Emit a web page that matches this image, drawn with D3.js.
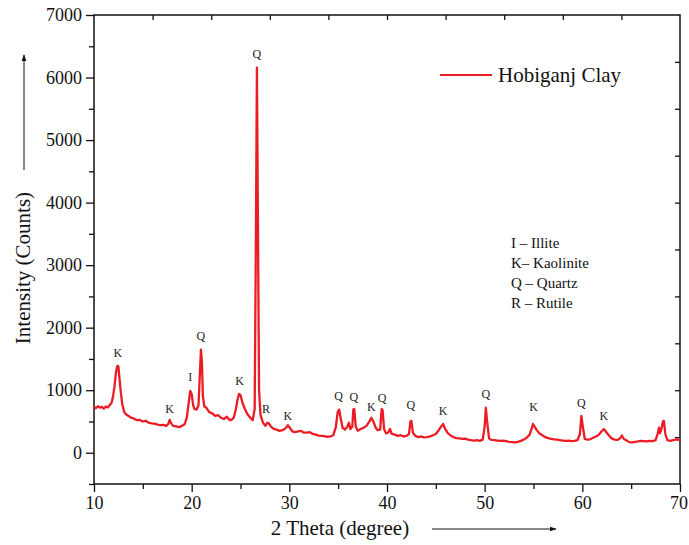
<!DOCTYPE html>
<html>
<head>
<meta charset="utf-8">
<title>Hobiganj Clay XRD</title>
<script src="https://d3js.org/d3.v7.min.js"></script>
<style>
  body { margin: 0; background: #fff; }
  svg { display: block; font-family: "Liberation Serif", "Times New Roman", serif; }
  .axis text { font-family: "Liberation Serif", "Times New Roman", serif; font-size: 18px; fill: #111; }
  .axis path, .axis line { stroke: #111; stroke-width: 1.3px; }
  .peak { font-size: 12px; fill: #222; text-anchor: middle; }
</style>
</head>
<body>
<svg id="chart" width="689" height="545"></svg>
<script>
// diffraction pattern (2 theta in degrees, counts)
const theta = [
  10.0, 10.2, 10.4, 10.6, 10.8, 11.0, 11.2, 11.4, 11.6, 11.8, 11.95, 12.1, 12.25, 12.4, 12.5, 12.6, 12.75, 12.9,
  13.1, 13.3, 13.5, 13.8, 14.1, 14.4, 14.7, 15.0, 15.3, 15.6, 15.9, 16.2, 16.5, 16.8, 17.1, 17.4, 17.6, 17.75, 17.9,
  18.1, 18.4, 18.7, 19.0, 19.3, 19.5, 19.7, 19.85, 20.0, 20.15, 20.3, 20.5, 20.7, 20.85, 20.95, 21.05, 21.15, 21.3,
  21.5, 21.8, 22.1, 22.4, 22.7, 23.0, 23.3, 23.6, 23.9, 24.1, 24.3, 24.5, 24.7, 24.85, 25.0, 25.2, 25.45, 25.7, 26.0,
  26.25, 26.45, 26.58, 26.68, 26.78, 26.9, 27.05, 27.3, 27.55, 27.75, 27.9, 28.1, 28.4, 28.7, 29.0, 29.3, 29.6, 29.85,
  30.05, 30.3, 30.6, 30.9, 31.2, 31.5, 31.8, 32.1, 32.4, 32.7, 33.0, 33.3, 33.6, 33.9, 34.2, 34.5, 34.75, 34.95, 35.1,
  35.25, 35.45, 35.7, 35.95, 36.1, 36.25, 36.45, 36.55, 36.65, 36.8, 37.0, 37.3, 37.6, 37.9, 38.2, 38.4, 38.6, 38.85,
  39.05, 39.3, 39.45, 39.55, 39.7, 39.9, 40.1, 40.3, 40.5, 40.8, 41.1, 41.4, 41.7, 42.0, 42.25, 42.4, 42.5, 42.65,
  42.9, 43.2, 43.5, 43.8, 44.1, 44.4, 44.7, 45.0, 45.3, 45.55, 45.75, 45.95, 46.2, 46.5, 46.8, 47.1, 47.4, 47.7,
  48.0, 48.3, 48.6, 48.9, 49.2, 49.5, 49.8, 50.0, 50.12, 50.25, 50.45, 50.7, 51.0, 51.3, 51.6, 51.9, 52.2, 52.5,
  52.8, 53.1, 53.4, 53.7, 54.0, 54.3, 54.6, 54.8, 54.95, 55.1, 55.3, 55.6, 55.9, 56.2, 56.5, 56.8, 57.1, 57.4, 57.7,
  58.0, 58.3, 58.6, 58.9, 59.2, 59.5, 59.75, 59.9, 60.05, 60.25, 60.5, 60.8, 61.1, 61.4, 61.7, 61.95, 62.2, 62.4,
  62.7, 63.0, 63.3, 63.6, 63.85, 64.05, 64.25, 64.5, 64.8, 65.1, 65.4, 65.7, 66.0, 66.3, 66.6, 66.9, 67.2, 67.5,
  67.7, 67.85, 67.95, 68.1, 68.25, 68.35, 68.5, 68.7, 69.0, 69.3, 69.6, 70.0
];
const counts = [
  735, 710, 745, 720, 735, 705, 740, 725, 760, 800, 900, 1060, 1290, 1390, 1380, 1200, 960, 770,
  650, 610, 590, 560, 545, 520, 525, 500, 510, 480, 470, 465, 450, 440, 445, 430, 460, 525, 470,
  430, 420, 410, 430, 460, 560, 800, 990, 940, 760, 700, 690, 760, 1300, 1650, 1450, 900, 740,
  720, 650, 630, 590, 600, 560, 540, 575, 520, 530, 560, 680, 850, 940, 920, 800, 700, 620, 560,
  520, 700, 3500, 6160, 3800, 1000, 600, 480, 430, 480, 470, 420, 380, 370, 350, 360, 390, 440,
  400, 340, 330, 340, 350, 320, 320, 330, 300, 290, 275, 270, 265, 255, 260, 280, 400, 650, 690,
  560, 400, 370, 420, 480, 380, 420, 690, 700, 420, 350, 380, 400, 430, 500, 560, 500, 400,
  360, 370, 700, 680, 380, 310, 320, 380, 300, 290, 270, 280, 260, 270, 300, 500, 510, 320,
  270, 250, 260, 245, 250, 260, 280, 300, 360, 420, 460, 380, 320, 275, 250, 235, 230, 220,
  225, 210, 200, 195, 200, 190, 210, 420, 720, 500, 230, 205, 200, 195, 190, 195, 185, 175,
  170, 165, 175, 190, 210, 240, 290, 380, 460, 420, 370, 310, 280, 250, 235, 220, 215, 210, 200,
  195, 190, 195, 185, 190, 200, 300, 590, 420, 220, 210, 215, 240, 260, 290, 340, 380, 340,
  280, 230, 210, 205, 230, 275, 220, 200, 170, 165, 175, 180, 190, 185, 180, 190, 185, 200,
  300, 400, 310, 380, 500, 510, 300, 200, 190, 200, 215, 200
];

// phase labels above the peaks
const peakLabels = ["K", "K", "I", "Q", "K", "Q", "R", "K", "Q", "Q", "K", "Q", "Q", "K", "Q", "K", "Q", "K"];
const peakTheta  = [12.45, 17.75, 19.85, 20.95, 24.9, 26.68, 27.6, 29.85, 35.05, 36.6, 38.4, 39.5, 42.45, 45.75, 50.12, 55.0, 59.9, 62.2];
const peakLabelY = [1530, 640, 1150, 1800, 1080, 6320, 640, 530, 840, 820, 660, 810, 700, 610, 880, 660, 730, 520];

const xTicks = [10, 20, 30, 40, 50, 60, 70];
const yTicks = [0, 1000, 2000, 3000, 4000, 5000, 6000, 7000];
const keyLines = ["I \u2013 Illite", "K\u2013 Kaolinite", "Q \u2013 Quartz", "R \u2013 Rutile"];
const seriesName = "Hobiganj Clay";

const width = 689, height = 545;
const margin = { top: 15, right: 9, bottom: 61, left: 94 };
const red = "#ec1c24";

const svg = d3.select("#chart");
const x = d3.scaleLinear().domain([10, 70]).range([margin.left, width - margin.right]);
const y = d3.scaleLinear().domain([-500, 7000]).range([height - margin.bottom, margin.top]);

// bottom axis: major + minor ticks outward
svg.append("g").attr("class", "axis")
  .attr("transform", `translate(0,${y(-500)})`)
  .call(d3.axisBottom(x).tickValues(d3.range(15, 70, 10)).tickSize(5).tickFormat(""))
  .call(g => g.select(".domain").remove());
svg.append("g").attr("class", "axis")
  .attr("transform", `translate(0,${y(-500)})`)
  .call(d3.axisBottom(x).tickValues(xTicks).tickSize(8).tickPadding(4).tickFormat(d3.format("d")))
  .call(g => g.select(".domain").remove())
  .call(g => g.selectAll(".tick text").filter(d => d === 70).attr("dx", -1.5));

// left axis
svg.append("g").attr("class", "axis")
  .attr("transform", `translate(${x(10)},0)`)
  .call(d3.axisLeft(y).tickValues(d3.range(-500, 7000, 1000)).tickSize(5).tickFormat(""))
  .call(g => g.select(".domain").remove());
svg.append("g").attr("class", "axis")
  .attr("transform", `translate(${x(10)},0)`)
  .call(d3.axisLeft(y).tickValues(yTicks).tickSize(8).tickPadding(4).tickFormat(d3.format("d")))
  .call(g => g.select(".domain").remove());

// opposite axes, inward ticks with their own spacing
svg.append("g").attr("class", "axis")
  .attr("transform", `translate(${x(70)},0)`)
  .call(d3.axisLeft(y).tickValues(d3.range(250, 7000, 750)).tickSize(5).tickFormat(""))
  .call(g => g.select(".domain").remove());
svg.append("g").attr("class", "axis")
  .attr("transform", `translate(0,${y(7000)})`)
  .call(d3.axisBottom(x).tickValues(d3.range(16, 70, 6)).tickSize(5).tickFormat(""))
  .call(g => g.select(".domain").remove());

// frame
svg.append("rect")
  .attr("x", x(10)).attr("y", y(7000))
  .attr("width", x(70) - x(10)).attr("height", y(-500) - y(7000))
  .attr("fill", "none").attr("stroke", "#111").attr("stroke-width", 1.5);

// pattern
const data = theta.map((t, i) => [t, counts[i]]);
svg.append("path")
  .datum(data)
  .attr("fill", "none")
  .attr("stroke", red)
  .attr("stroke-width", 2.3)
  .attr("stroke-linejoin", "round")
  .attr("d", d3.line().x(d => x(d[0])).y(d => y(d[1])));

// peak letters
svg.append("g").selectAll("text")
  .data(peakLabels)
  .join("text")
  .attr("class", "peak")
  .attr("x", (d, i) => x(peakTheta[i]))
  .attr("y", (d, i) => y(peakLabelY[i]))
  .text(d => d);

// legend
svg.append("line")
  .attr("x1", 440).attr("x2", 492).attr("y1", 75).attr("y2", 75)
  .attr("stroke", red).attr("stroke-width", 2);
svg.append("text")
  .attr("x", 498).attr("y", 82)
  .attr("font-size", 21).attr("fill", "#111")
  .text(seriesName);

// phase key
svg.append("g").selectAll("text")
  .data(keyLines)
  .join("text")
  .attr("x", 511)
  .attr("y", (d, i) => 248 + i * 20)
  .attr("font-size", 15).attr("fill", "#111")
  .text(d => d);

// axis titles with arrows
svg.append("defs").append("marker")
  .attr("id", "arrow").attr("viewBox", "0 0 10 10")
  .attr("refX", 9).attr("refY", 5)
  .attr("markerWidth", 7).attr("markerHeight", 7)
  .attr("markerUnits", "userSpaceOnUse")
  .attr("orient", "auto")
  .append("path").attr("d", "M0,1.5 L10,5 L0,8.5 Z").attr("fill", "#111");

svg.append("text")
  .attr("transform", "translate(30,268) rotate(-90)")
  .attr("text-anchor", "middle")
  .attr("font-size", 21).attr("fill", "#111")
  .text("Intensity (Counts)");
svg.append("line")
  .attr("x1", 24).attr("x2", 24).attr("y1", 170).attr("y2", 55)
  .attr("stroke", "#111").attr("stroke-width", 1).attr("marker-end", "url(#arrow)");

svg.append("text")
  .attr("x", 340).attr("y", 535)
  .attr("text-anchor", "middle")
  .attr("font-size", 21).attr("fill", "#111")
  .text("2 Theta (degree)");
svg.append("line")
  .attr("x1", 432).attr("x2", 556).attr("y1", 529).attr("y2", 529)
  .attr("stroke", "#111").attr("stroke-width", 1).attr("marker-end", "url(#arrow)");
</script>
</body>
</html>
